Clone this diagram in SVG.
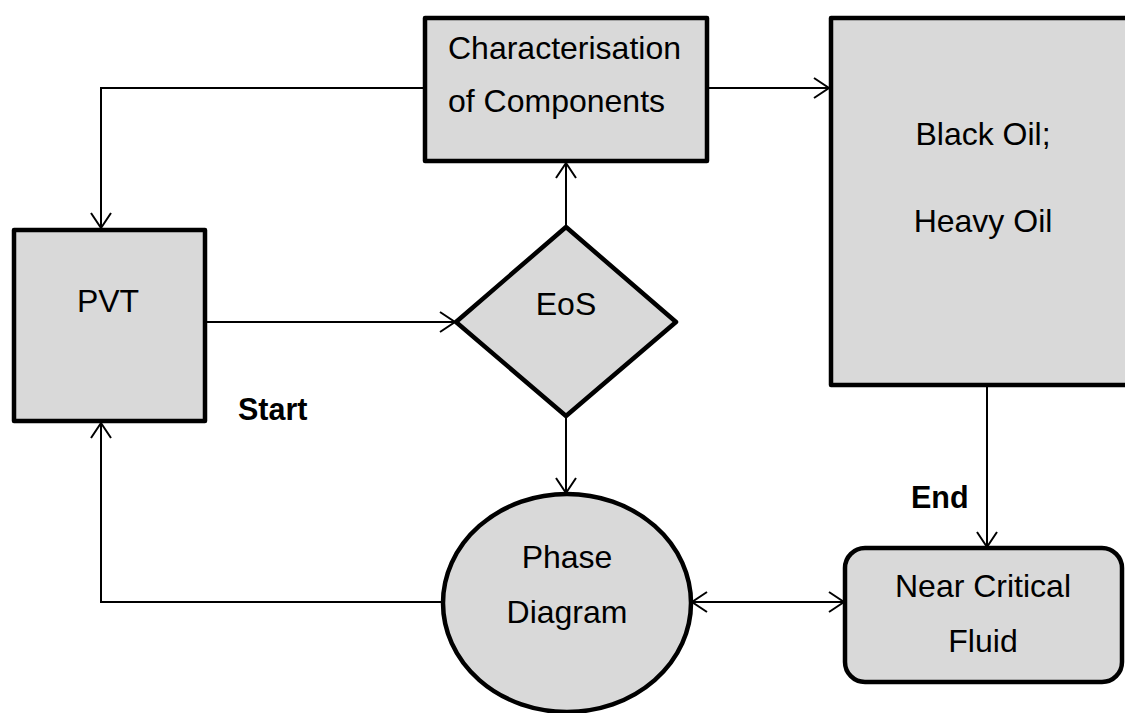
<svg xmlns="http://www.w3.org/2000/svg" width="1125" height="713" viewBox="0 0 1125 713">
<style>
.n{fill:#d9d9d9;stroke:#000;stroke-width:4.5;stroke-linejoin:round}
.t{font-family:"Liberation Sans",Arial,sans-serif;font-size:32px;fill:#000;text-anchor:middle}
.b{font-family:"Liberation Sans",Arial,sans-serif;font-size:30.5px;font-weight:bold;fill:#000}
.c{fill:none;stroke:#000;stroke-width:2}
</style>
<defs>
<marker id="a" viewBox="-17 -12 19 24" markerWidth="19" markerHeight="24" refX="0" refY="0" markerUnits="userSpaceOnUse" orient="auto-start-reverse">
<path d="M-15,-10 L0,0 L-15,10" fill="none" stroke="#000" stroke-width="2"/>
</marker>
</defs>
<rect width="1125" height="713" fill="#fff"/>
<g id="connectors">
<path class="c" d="M425,88 H101 V228" marker-end="url(#a)"/>
<path class="c" d="M708,88 H829" marker-end="url(#a)"/>
<path class="c" d="M207,322 H455" marker-end="url(#a)"/>
<path class="c" d="M566,225 V163" marker-end="url(#a)"/>
<path class="c" d="M566,418 V493" marker-end="url(#a)"/>
<path class="c" d="M442,602 H101 V423" marker-end="url(#a)"/>
<path class="c" d="M692,602 H844" marker-start="url(#a)" marker-end="url(#a)"/>
<path class="c" d="M987,387 V547" marker-end="url(#a)"/>
</g>
<g id="characterisation">
<rect class="n" x="425" y="18" width="282" height="143"/>
<text class="t" x="448" y="59" style="text-anchor:start">Characterisation</text>
<text class="t" x="448" y="112" style="text-anchor:start">of Components</text>
</g>
<g id="blackoil">
<rect class="n" x="831" y="18" width="310" height="367"/>
<text class="t" x="983" y="145">Black Oil;</text>
<text class="t" x="983" y="232">Heavy Oil</text>
</g>
<g id="pvt">
<rect class="n" x="14" y="230" width="191" height="191"/>
<text class="t" x="108" y="312">PVT</text>
</g>
<g id="eos">
<polygon class="n" points="566,227 676,322 566,416 456,322"/>
<text class="t" x="566" y="315">EoS</text>
</g>
<g id="phase">
<ellipse class="n" cx="567" cy="603" rx="124" ry="109"/>
<text class="t" x="567" y="568">Phase</text>
<text class="t" x="567" y="623">Diagram</text>
</g>
<g id="nearcritical">
<rect class="n" x="845" y="548" width="277" height="134" rx="20" ry="20"/>
<text class="t" x="983" y="597">Near Critical</text>
<text class="t" x="983" y="652">Fluid</text>
</g>
<text class="b" x="238" y="420">Start</text>
<text class="b" x="911" y="508">End</text>
</svg>
